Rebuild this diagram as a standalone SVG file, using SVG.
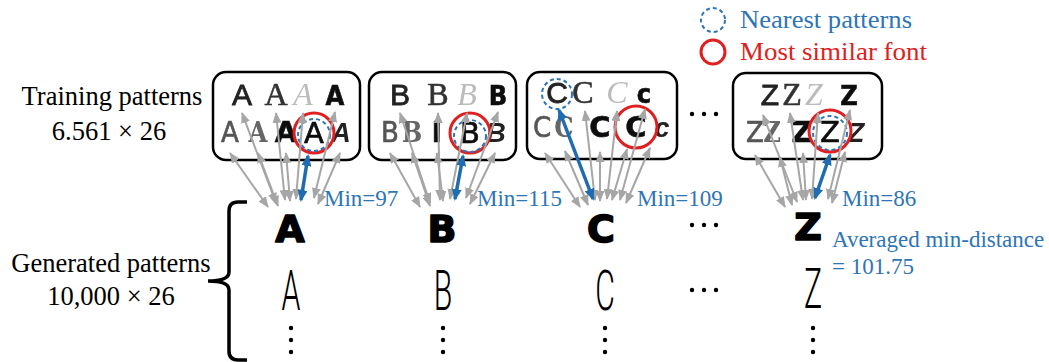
<svg xmlns="http://www.w3.org/2000/svg" width="1049" height="362" viewBox="0 0 1049 362">
<style>
.lbl{font-family:"Liberation Serif","Times New Roman",serif;font-size:26.5px;fill:#000;text-anchor:middle}
.blue{font-family:"Liberation Serif","Times New Roman",serif;font-size:23px;fill:#2e75b6}
.leg{font-family:"Liberation Serif","Times New Roman",serif;font-size:26px}
.box{fill:#fff;stroke:#000;stroke-width:2.5}
.g{filter:url(#blur)}
.t1{font-family:"Liberation Sans",Arial,sans-serif;font-size:30px;fill:#222;stroke:#222;stroke-width:0.8;text-anchor:middle}
.t2{font-family:"Liberation Serif",serif;font-size:32px;fill:#333;stroke:#333;stroke-width:0.6;text-anchor:middle}
.t3{font-family:"Liberation Serif",serif;font-style:italic;font-size:32px;fill:#bbb;text-anchor:middle}
.t4{font-family:"DejaVu Sans Condensed","DejaVu Sans",sans-serif;font-weight:bold;font-size:27px;fill:#111;stroke:#111;stroke-width:0.6;text-anchor:middle}
.b1{font-family:"DejaVu Sans Condensed","DejaVu Sans",sans-serif;font-size:29px;fill:#555;stroke:#555;stroke-width:0.6;text-anchor:middle}
.b2{font-family:"DejaVu Serif Condensed","DejaVu Serif",serif;font-weight:bold;font-size:27px;fill:#666;text-anchor:middle}
.b3{font-family:"DejaVu Sans",sans-serif;font-weight:bold;font-size:29px;fill:#111;stroke:#111;stroke-width:0.6;text-anchor:middle}
.b4{font-family:"DejaVu Sans",sans-serif;font-size:29px;fill:#111;stroke:#111;stroke-width:0.7;text-anchor:middle}
.b5{font-family:"Liberation Sans",Arial,sans-serif;font-weight:bold;font-style:italic;font-size:27px;fill:#222;text-anchor:middle}
.gen{font-family:"DejaVu Sans",sans-serif;font-weight:bold;font-size:38px;fill:#000;stroke:#000;stroke-width:1.6;stroke-linejoin:round;text-anchor:middle}
.thin{font-family:Roboto,"DejaVu Sans",sans-serif;font-weight:300;font-size:55px;fill:#000;text-anchor:middle}
.red{fill:none;stroke:#e02020;stroke-width:3}
.dash{fill:none;stroke:#2e75b6;stroke-width:2;stroke-dasharray:4 3}
.ga{stroke:#a6a6a6;stroke-width:2;fill:none;marker-start:url(#gh);marker-end:url(#gh)}
.ba{stroke:#1f6cb0;stroke-width:3.5;fill:none;marker-start:url(#bh);marker-end:url(#bh)}
.dot{fill:#000}
</style>
<defs>
<filter id="blur" x="-10%" y="-10%" width="120%" height="120%"><feGaussianBlur stdDeviation="0.6"/></filter>
<marker id="gh" markerUnits="userSpaceOnUse" markerWidth="11" markerHeight="9" refX="10" refY="4.5" orient="auto-start-reverse"><path d="M0,0 L11,4.5 L0,9 z" fill="#a6a6a6"/></marker>
<marker id="bh" markerUnits="userSpaceOnUse" markerWidth="12" markerHeight="10" refX="10" refY="5" orient="auto-start-reverse"><path d="M0,0 L12,5 L0,10 z" fill="#1f6cb0"/></marker>
</defs>

<g id="legend">
<circle class="dash" cx="713" cy="20" r="12"/>
<text class="leg" x="740" y="28" fill="#2e75b6" textLength="172" lengthAdjust="spacingAndGlyphs">Nearest patterns</text>
<circle class="red" cx="713" cy="52" r="12" stroke-width="2"/>
<text class="leg" x="740" y="60" fill="#e02020" textLength="187" lengthAdjust="spacingAndGlyphs">Most similar font</text>
</g>

<g id="training-label">
<text class="lbl" x="112" y="105">Training patterns</text>
<text class="lbl" x="109" y="140">6.561 × 26</text>
</g>

<g id="generated-label">
<text class="lbl" x="111" y="272">Generated patterns</text>
<text class="lbl" x="111" y="305">10,000 × 26</text>
<path d="M247,202 L238,202 Q229,202 229,211 L229,272 Q229,281 208,281 Q229,281 229,290 L229,351 Q229,360 238,360 L247,360" fill="none" stroke="#000" stroke-width="3.5"/>
</g>

<g id="box-A">
<rect class="box" x="213" y="72" width="147" height="88" rx="13"/>
<g class="g">
<text class="t1" x="242" y="105">A</text><text class="t2" x="276" y="105">A</text><text class="t3" x="303" y="105">A</text><text class="t4" x="335" y="105">A</text>
<text class="b1" x="230" y="142">A</text><text class="b2" x="258" y="142">A</text><text class="b3" x="286" y="142">A</text><text class="b4" x="314" y="143">A</text><text class="b5" x="341" y="142">A</text>
</g>
<circle class="red" cx="314" cy="133" r="20"/>
<circle class="dash" cx="314" cy="135" r="16"/>
</g>

<g id="box-B">
<rect class="box" x="369" y="72" width="147" height="88" rx="13"/>
<g class="g">
<text class="t1" x="400" y="105">B</text><text class="t2" x="438" y="105">B</text><text class="t3" x="467" y="105">B</text><text class="t4" x="498" y="105">B</text>
<text class="b1" x="390" y="142">B</text><text class="b2" x="412" y="142">B</text><text class="b3" x="437" y="142">I</text><text class="b4" x="470" y="143">B</text><text class="b5" x="496" y="142">B</text>
</g>
<circle class="red" cx="470" cy="133" r="20"/>
<circle class="dash" cx="470" cy="136" r="16"/>
</g>

<g id="box-C">
<rect class="box" x="527" y="72" width="150" height="87" rx="13"/>
<g class="g">
<text class="t1" x="557" y="103">C</text><text class="t2" x="583" y="103">C</text><text class="t3" x="617" y="103">C</text><text class="t4" x="644" y="103">c</text>
<text class="b1" x="542" y="137">C</text><text class="b2" x="564" y="137">C</text><text class="b3" x="600" y="137">C</text><text class="b3" x="636" y="137">C</text><text class="b5" x="662" y="137">c</text>
</g>
<circle class="red" cx="636" cy="127" r="21"/>
<circle class="dash" cx="557" cy="94" r="15"/>
</g>

<g id="ellipsis-top">
<circle class="dot" cx="692" cy="114" r="2.2"/><circle class="dot" cx="704" cy="114" r="2.2"/><circle class="dot" cx="716" cy="114" r="2.2"/>
</g>

<g id="box-Z">
<rect class="box" x="733" y="73" width="149" height="86" rx="13"/>
<g class="g">
<text class="t1" x="770" y="105">Z</text><text class="t2" x="792" y="105">Z</text><text class="t3" x="814" y="105">Z</text><text class="t4" x="849" y="105">Z</text>
<text class="b1" x="755" y="142">Z</text><text class="b2" x="772" y="142">Z</text><text class="b3" x="802" y="142">Z</text><text class="b4" x="830" y="142">Z</text><text class="b5" x="856" y="142">Z</text>
</g>
<circle class="red" cx="830" cy="131" r="21"/>
<circle class="dash" cx="830" cy="133" r="17"/>
</g>

<g id="connectors">
<line class="ga" x1="276" y1="203" x2="242" y2="113"/>
<line class="ga" x1="285" y1="200" x2="276" y2="113"/>
<line class="ga" x1="296" y1="199" x2="303" y2="113"/>
<line class="ga" x1="314" y1="198" x2="335" y2="112"/>
<line class="ga" x1="268" y1="207" x2="230" y2="153"/>
<line class="ga" x1="278" y1="206" x2="258" y2="153"/>
<line class="ga" x1="290" y1="201" x2="286" y2="153"/>
<line class="ga" x1="318" y1="204" x2="340" y2="153"/>
<line class="ba" x1="301" y1="200" x2="308" y2="156"/>

<line class="ga" x1="430" y1="203" x2="400" y2="113"/>
<line class="ga" x1="440" y1="200" x2="438" y2="113"/>
<line class="ga" x1="450" y1="199" x2="467" y2="113"/>
<line class="ga" x1="466" y1="198" x2="498" y2="112"/>
<line class="ga" x1="420" y1="207" x2="390" y2="153"/>
<line class="ga" x1="430" y1="206" x2="412" y2="153"/>
<line class="ga" x1="443" y1="201" x2="437" y2="153"/>
<line class="ga" x1="470" y1="204" x2="495" y2="153"/>
<line class="ba" x1="455" y1="199" x2="463" y2="156"/>

<line class="ga" x1="595" y1="200" x2="585" y2="111"/>
<line class="ga" x1="607" y1="199" x2="617" y2="111"/>
<line class="ga" x1="620" y1="200" x2="645" y2="109"/>
<line class="ga" x1="580" y1="207" x2="545" y2="153"/>
<line class="ga" x1="588" y1="205" x2="565" y2="151"/>
<line class="ga" x1="600" y1="201" x2="600" y2="152"/>
<line class="ga" x1="612" y1="200" x2="627" y2="149"/>
<line class="ga" x1="626" y1="203" x2="650" y2="148"/>
<line class="ba" x1="593" y1="199" x2="559" y2="110"/>

<line class="ga" x1="797" y1="202" x2="763" y2="115"/>
<line class="ga" x1="803" y1="200" x2="790" y2="113"/>
<line class="ga" x1="812" y1="199" x2="818" y2="113"/>
<line class="ga" x1="828" y1="199" x2="850" y2="110"/>
<line class="ga" x1="785" y1="207" x2="755" y2="155"/>
<line class="ga" x1="792" y1="205" x2="780" y2="157"/>
<line class="ga" x1="806" y1="200" x2="803" y2="153"/>
<line class="ga" x1="832" y1="203" x2="845" y2="152"/>
<line class="ba" x1="815" y1="198" x2="830" y2="155"/>
</g>

<g id="distances">
<text class="blue" x="324" y="206">Min=97</text>
<text class="blue" x="477" y="206">Min=115</text>
<text class="blue" x="637" y="206">Min=109</text>
<text class="blue" x="842" y="206">Min=86</text>
<text class="blue" x="832" y="247">Averaged min-distance</text>
<text class="blue" x="832" y="274">= 101.75</text>
</g>

<g id="gen-A">
<text class="gen" x="290" y="242">A</text>
<text class="thin" transform="translate(291,310) scale(0.55,1)">A</text>
<circle class="dot" cx="291" cy="328" r="2.2"/><circle class="dot" cx="291" cy="340" r="2.2"/><circle class="dot" cx="291" cy="352" r="2.2"/>
</g>
<g id="gen-B">
<text class="gen" x="442" y="242">B</text>
<text class="thin" transform="translate(443,310) scale(0.55,1)">B</text>
<circle class="dot" cx="443" cy="328" r="2.2"/><circle class="dot" cx="443" cy="340" r="2.2"/><circle class="dot" cx="443" cy="352" r="2.2"/>
</g>
<g id="gen-C">
<text class="gen" x="601" y="242">C</text>
<text class="thin" transform="translate(605,310) scale(0.55,1)">C</text>
<circle class="dot" cx="605" cy="328" r="2.2"/><circle class="dot" cx="605" cy="340" r="2.2"/><circle class="dot" cx="605" cy="352" r="2.2"/>
</g>
<g id="ellipsis-gen">
<circle class="dot" cx="692" cy="225" r="2.2"/><circle class="dot" cx="704" cy="225" r="2.2"/><circle class="dot" cx="716" cy="225" r="2.2"/>
<circle class="dot" cx="692" cy="290" r="2.2"/><circle class="dot" cx="704" cy="290" r="2.2"/><circle class="dot" cx="716" cy="290" r="2.2"/>
</g>
<g id="gen-Z">
<text class="gen" x="808" y="240">Z</text>
<text class="thin" transform="translate(813,308) scale(0.55,1)">Z</text>
<circle class="dot" cx="813" cy="328" r="2.2"/><circle class="dot" cx="813" cy="340" r="2.2"/><circle class="dot" cx="813" cy="352" r="2.2"/>
</g>
</svg>
